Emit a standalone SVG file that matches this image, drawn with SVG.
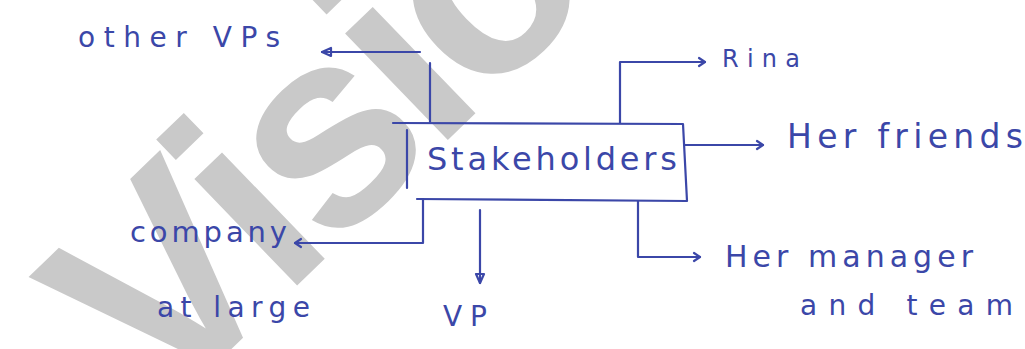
<svg xmlns="http://www.w3.org/2000/svg" width="1025" height="349" viewBox="0 0 1025 349">
<defs>
<style>
.ink{fill:none;stroke:#3b47a8;stroke-width:2.2;stroke-linecap:round;stroke-linejoin:round}
.lbl{font-family:"DejaVu Sans","Liberation Sans",sans-serif;fill:#3b47a8}
.wm{font-family:"Liberation Sans",Arial,sans-serif;font-weight:bold;fill:#c9c9c9}
</style>
<marker id="chev" markerWidth="12" markerHeight="12" refX="9" refY="6" orient="auto" markerUnits="userSpaceOnUse">
<path d="M3,2 L9,6 L3,10" fill="none" stroke="#3b47a8" stroke-width="2.2" stroke-linecap="round" stroke-linejoin="round"/>
</marker>
<marker id="tri" markerWidth="14" markerHeight="14" refX="11" refY="7" orient="auto" markerUnits="userSpaceOnUse">
<path d="M2,3 L11,7 L2,11 Z" fill="none" stroke="#3b47a8" stroke-width="2.2" stroke-linejoin="round"/>
</marker>
</defs>
<rect width="1025" height="349" fill="#ffffff"/>
<g id="watermark">
<text class="wm" x="161" y="417" font-size="280" letter-spacing="-12" transform="rotate(-44 161 417)">Visio</text>
</g>
<g id="connectors">
<path class="ink" d="M430,122 V63 M420,52 H322" marker-end="url(#tri)"/>
<path class="ink" d="M620,123 V62 H705" marker-end="url(#chev)"/>
<path class="ink" d="M685,145 H763" marker-end="url(#chev)"/>
<path class="ink" d="M638,201 V257 H700" marker-end="url(#chev)"/>
<path class="ink" d="M423,199 V243 H295" marker-end="url(#chev)"/>
<path class="ink" d="M480,210 V283" marker-end="url(#tri)"/>
</g>
<g id="node-stakeholders">
<path class="ink" d="M393,123 L683,124 L687,201 L417,199 M407,130 L407,188"/>
<text class="lbl" x="427" y="170" font-size="32" textLength="250" lengthAdjust="spacing">Stakeholders</text>
</g>
<g id="node-other-vps">
<text class="lbl" x="78" y="47" font-size="28" textLength="202" lengthAdjust="spacing">other VPs</text>
</g>
<g id="node-rina">
<text class="lbl" x="722" y="67" font-size="24" textLength="78" lengthAdjust="spacing">Rina</text>
</g>
<g id="node-her-friends">
<text class="lbl" x="787" y="148" font-size="33" textLength="236" lengthAdjust="spacing">Her friends</text>
</g>
<g id="node-her-manager">
<text class="lbl" x="725" y="267" font-size="30" textLength="248" lengthAdjust="spacing">Her manager</text>
<text class="lbl" x="800" y="315" font-size="28" textLength="213" lengthAdjust="spacing">and team</text>
</g>
<g id="node-company">
<text class="lbl" x="130" y="242" font-size="29" textLength="157" lengthAdjust="spacing">company</text>
<text class="lbl" x="157" y="317" font-size="28" textLength="153" lengthAdjust="spacing">at large</text>
</g>
<g id="node-vp">
<text class="lbl" x="443" y="326" font-size="28" textLength="44" lengthAdjust="spacing">VP</text>
</g>
</svg>
